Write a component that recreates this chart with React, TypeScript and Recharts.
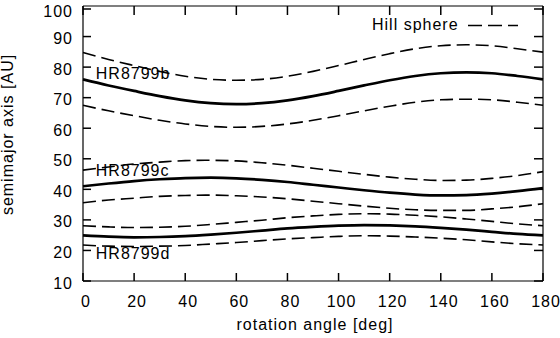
import React from 'react';
import { LineChart, Line, XAxis, YAxis, Legend, ReferenceDot } from 'recharts';

// rotation angle [deg]
const angles = [0, 10, 20, 30, 40, 50, 60, 70, 80, 90, 100, 110, 120, 130, 140, 150, 160, 170, 180];

// HR8799b semimajor axis and hill sphere limits [AU]
const bA = [76.0, 74.0, 72.2, 70.5, 69.1, 68.2, 67.9, 68.2, 69.1, 70.5, 72.2, 74.0, 75.7, 77.1, 78.0, 78.3, 78.0, 77.1, 76.0];
const bHi = [84.8, 82.5, 80.5, 78.6, 77.0, 76.0, 75.7, 76.0, 77.0, 78.6, 80.5, 82.5, 84.4, 86.0, 87.0, 87.3, 87.0, 86.0, 84.9];
const bLo = [67.5, 65.7, 64.1, 62.6, 61.4, 60.6, 60.3, 60.6, 61.4, 62.6, 64.1, 65.7, 67.2, 68.5, 69.3, 69.5, 69.3, 68.5, 67.5];

// HR8799c
const cA = [41.0, 41.9, 42.7, 43.3, 43.7, 43.8, 43.6, 43.1, 42.4, 41.5, 40.6, 39.7, 38.9, 38.3, 38.0, 38.1, 38.6, 39.4, 40.4];
const cHi = [46.3, 47.3, 48.3, 48.9, 49.4, 49.5, 49.3, 48.7, 47.9, 46.9, 45.9, 44.9, 44.0, 43.3, 42.9, 43.0, 43.6, 44.5, 45.8];
const cLo = [35.6, 36.5, 37.1, 37.7, 38.0, 38.1, 37.9, 37.5, 36.9, 36.1, 35.3, 34.5, 33.8, 33.3, 33.1, 33.1, 33.6, 34.3, 35.3];

// HR8799d
const dA = [24.9, 24.5, 24.3, 24.4, 24.7, 25.2, 25.8, 26.5, 27.2, 27.7, 28.1, 28.3, 28.2, 27.9, 27.4, 26.8, 26.1, 25.4, 24.9];
const dHi = [28.1, 27.7, 27.5, 27.6, 27.9, 28.5, 29.2, 29.9, 30.7, 31.3, 31.8, 32.0, 31.9, 31.5, 31.0, 30.3, 29.5, 28.7, 28.1];
const dLo = [21.8, 21.4, 21.3, 21.4, 21.6, 22.1, 22.6, 23.2, 23.8, 24.2, 24.6, 24.8, 24.7, 24.4, 24.0, 23.5, 22.8, 22.2, 21.8];

const xTicks = [0, 20, 40, 60, 80, 100, 120, 140, 160, 180];
const yTicks = [10, 20, 30, 40, 50, 60, 70, 80, 90, 100];

// planet name labels, placed in data coordinates
const planetLabels = [
  { name: 'HR8799b', angle: 5, a: 78 },
  { name: 'HR8799c', angle: 5, a: 46.3 },
  { name: 'HR8799d', angle: 5, a: 19.2 },
];

const data = angles.map((angle, i) => ({
  angle,
  bA: bA[i], bHi: bHi[i], bLo: bLo[i],
  cA: cA[i], cHi: cHi[i], cLo: cLo[i],
  dA: dA[i], dHi: dHi[i], dLo: dLo[i],
}));

const FONT = '"Liberation Sans", Arial, Helvetica, sans-serif';
const W = 560;
const H = 338;
const MARGIN = { top: 6, right: 17, bottom: 0, left: 0 };
const Y_AXIS_W = 83;
const X_AXIS_H = 57;
const PLOT_W = W - MARGIN.left - MARGIN.right - Y_AXIS_W - 1;
const PLOT_H = H - MARGIN.top - MARGIN.bottom - X_AXIS_H - 1;
const TICK_LEN = 8;
const TICK_W = 1.5;
const X_GAP = 15;
const Y_GAP = 10;
const DASH = '13 6';

// bottom tick label, with inward tick marks on the bottom and top border
const XTick = (props: any) => {
  const { x, y, payload } = props;
  const bottom = y - X_GAP;
  const top = bottom - PLOT_H;
  return (
    <g>
      <line x1={x} x2={x} y1={bottom} y2={bottom - TICK_LEN} stroke="#000" strokeWidth={TICK_W} />
      <line x1={x} x2={x} y1={top - 1} y2={top + TICK_LEN} stroke="#000" strokeWidth={TICK_W} />
      <text x={x + 3} y={y} dy={11.3} textAnchor="middle" fill="#000">{payload.value}</text>
    </g>
  );
};

// left tick label, with inward tick marks on the left and right border
const YTick = (props: any) => {
  const { x, y, payload } = props;
  const left = x + Y_GAP;
  const right = left + PLOT_W;
  return (
    <g>
      <line x1={left} x2={left + TICK_LEN} y1={y} y2={y} stroke="#000" strokeWidth={TICK_W} />
      <line x1={right + 1} x2={right - TICK_LEN} y1={y} y2={y} stroke="#000" strokeWidth={TICK_W} />
      <text x={x} y={y} dy={7.5} textAnchor="end" fill="#000">{payload.value}</text>
    </g>
  );
};

const HillLegend = () => (
  <svg width={160} height={24} style={{ display: 'block' }}>
    <text x={0} y={18} fill="#000">Hill sphere</text>
    <line x1={96} x2={146} y1={13.5} y2={13.5} stroke="#000" strokeWidth={1.6} strokeDasharray="14 6" />
  </svg>
);

const border = { stroke: '#000', strokeWidth: 1.2 };

export default function App() {
  return (
    <div style={{ position: 'absolute', left: 0, top: 0, width: W, height: H, background: '#fff', fontFamily: FONT, fontSize: 16, letterSpacing: '1px' }}>
      <LineChart width={W} height={H} data={data} margin={MARGIN}>
        <XAxis
          xAxisId="x"
          dataKey="angle"
          type="number"
          domain={[0, 180]}
          ticks={xTicks}
          tickSize={0}
          tickMargin={X_GAP}
          tickLine={false}
          tick={<XTick />}
          axisLine={border}
          height={X_AXIS_H}
          label={{
            content: (p: any) => {
              const vb = p.viewBox;
              return (
                <text x={vb.x + vb.width / 2 + 2} y={vb.y + vb.height - 8} textAnchor="middle" fill="#000">
                  rotation angle [deg]
                </text>
              );
            },
          }}
        />
        <XAxis
          xAxisId="top"
          orientation="top"
          type="number"
          domain={[0, 180]}
          ticks={xTicks}
          mirror
          height={1}
          tick={false}
          tickLine={false}
          axisLine={border}
        />
        <YAxis
          yAxisId="y"
          type="number"
          domain={[10, 100]}
          ticks={yTicks}
          tickSize={0}
          tickMargin={Y_GAP}
          tickLine={false}
          tick={<YTick />}
          axisLine={border}
          width={Y_AXIS_W}
          label={{
            content: (p: any) => {
              const vb = p.viewBox;
              const cx = vb.x + 12.7;
              const cy = vb.y + vb.height / 2 - 9;
              return (
                <text x={cx} y={cy} transform={`rotate(-90 ${cx} ${cy})`} textAnchor="middle" fill="#000">
                  semimajor axis [AU]
                </text>
              );
            },
          }}
        />
        <YAxis
          yAxisId="right"
          orientation="right"
          type="number"
          domain={[10, 100]}
          ticks={yTicks}
          mirror
          width={1}
          tick={false}
          tickLine={false}
          axisLine={border}
        />
        <Legend
          layout="horizontal"
          verticalAlign="middle"
          align="center"
          wrapperStyle={{ top: 12, left: 372, width: 'auto' }}
          content={() => <HillLegend />}
        />

        <Line xAxisId="x" yAxisId="y" type="monotone" dataKey="bHi" stroke="#000" strokeWidth={1.6} strokeDasharray={DASH} dot={false} isAnimationActive={false} />
        <Line xAxisId="x" yAxisId="y" type="monotone" dataKey="bLo" stroke="#000" strokeWidth={1.6} strokeDasharray={DASH} dot={false} isAnimationActive={false} />
        <Line xAxisId="x" yAxisId="y" type="monotone" dataKey="cHi" stroke="#000" strokeWidth={1.6} strokeDasharray={DASH} dot={false} isAnimationActive={false} />
        <Line xAxisId="x" yAxisId="y" type="monotone" dataKey="cLo" stroke="#000" strokeWidth={1.6} strokeDasharray={DASH} dot={false} isAnimationActive={false} />
        <Line xAxisId="x" yAxisId="y" type="monotone" dataKey="dHi" stroke="#000" strokeWidth={1.6} strokeDasharray={DASH} dot={false} isAnimationActive={false} />
        <Line xAxisId="x" yAxisId="y" type="monotone" dataKey="dLo" stroke="#000" strokeWidth={1.6} strokeDasharray={DASH} dot={false} isAnimationActive={false} />
        <Line xAxisId="x" yAxisId="y" type="monotone" dataKey="bA" stroke="#000" strokeWidth={2.7} dot={false} isAnimationActive={false} />
        <Line xAxisId="x" yAxisId="y" type="monotone" dataKey="cA" stroke="#000" strokeWidth={2.7} dot={false} isAnimationActive={false} />
        <Line xAxisId="x" yAxisId="y" type="monotone" dataKey="dA" stroke="#000" strokeWidth={2.7} dot={false} isAnimationActive={false} />

        {planetLabels.map((l) => (
          <ReferenceDot
            key={l.name}
            xAxisId="x"
            yAxisId="y"
            x={l.angle}
            y={l.a}
            r={0}
            fill="none"
            stroke="none"
            label={{ value: l.name, position: 'right', offset: 0, fill: '#000', fontSize: 16 }}
          />
        ))}
      </LineChart>
    </div>
  );
}
